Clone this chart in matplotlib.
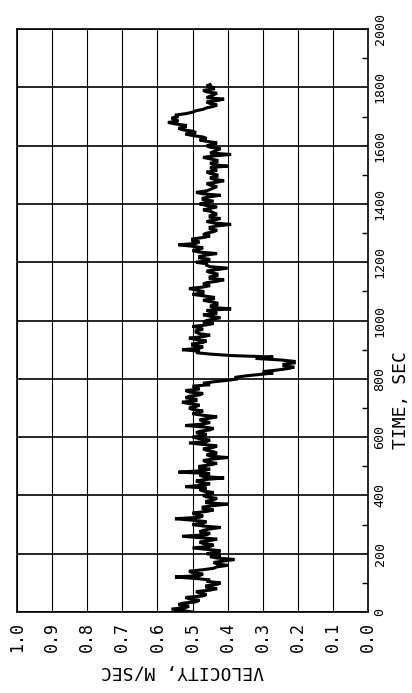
import numpy as np
import matplotlib
matplotlib.use("Agg")
import matplotlib.pyplot as plt

# velocity trace, every 10 s from 0 to 1810 s
velocity = [
    0.50, 0.56, 0.51, 0.53, 0.48, 0.52, 0.46, 0.49, 0.43, 0.46,   # 0-90
    0.42, 0.45, 0.55, 0.47, 0.51, 0.44, 0.40, 0.44, 0.38, 0.45,   # 100-190
    0.46, 0.42, 0.50, 0.44, 0.48, 0.43, 0.53, 0.45, 0.47, 0.42,   # 200-290
    0.50, 0.46, 0.55, 0.47, 0.50, 0.44, 0.47, 0.40, 0.46, 0.43,   # 300-390
    0.47, 0.44, 0.48, 0.52, 0.45, 0.49, 0.41, 0.48, 0.54, 0.45,   # 400-490
    0.48, 0.43, 0.47, 0.40, 0.46, 0.44, 0.47, 0.43, 0.51, 0.45,   # 500-590
    0.50, 0.46, 0.48, 0.44, 0.52, 0.45, 0.48, 0.43, 0.50, 0.47,   # 600-690
    0.51, 0.48, 0.53, 0.49, 0.51, 0.47, 0.52, 0.49, 0.45, 0.44,   # 700-790
    0.37, 0.35, 0.27, 0.26, 0.21, 0.24, 0.21, 0.32, 0.39, 0.49,   # 800-890
    0.53, 0.47, 0.50, 0.46, 0.51, 0.45, 0.49, 0.47, 0.50, 0.44,   # 900-990
    0.46, 0.42, 0.47, 0.44, 0.39, 0.45, 0.43, 0.47, 0.44, 0.50,   # 1000-1090
    0.47, 0.51, 0.45, 0.46, 0.41, 0.45, 0.43, 0.46, 0.40, 0.46,   # 1100-1190
    0.49, 0.45, 0.48, 0.43, 0.50, 0.47, 0.54, 0.48, 0.50, 0.45,   # 1200-1290
    0.46, 0.43, 0.45, 0.39, 0.46, 0.42, 0.45, 0.44, 0.47, 0.43,   # 1300-1390
    0.48, 0.44, 0.47, 0.42, 0.49, 0.45, 0.43, 0.46, 0.41, 0.45,   # 1400-1490
    0.43, 0.46, 0.44, 0.40, 0.45, 0.43, 0.47, 0.39, 0.44, 0.42,   # 1500-1590
    0.46, 0.43, 0.48, 0.47, 0.52, 0.50, 0.54, 0.52, 0.57, 0.55,   # 1600-1690
    0.54, 0.52, 0.49, 0.46, 0.43, 0.46, 0.41, 0.45, 0.43, 0.47,   # 1700-1790
    0.44, 0.45,                                                   # 1800-1810
]
# readings in between, at 5, 15, ... 1805 s
velocity_mid = [
    0.53, 0.52, 0.54, 0.49, 0.51, 0.47, 0.48, 0.45, 0.46, 0.43,
    0.46, 0.49, 0.48, 0.50, 0.47, 0.43, 0.43, 0.41, 0.43, 0.42,
    0.43, 0.46, 0.45, 0.47, 0.45, 0.48, 0.46, 0.48, 0.45, 0.47,
    0.47, 0.50, 0.48, 0.49, 0.46, 0.47, 0.44, 0.46, 0.44, 0.46,
    0.45, 0.47, 0.46, 0.47, 0.48, 0.46, 0.47, 0.45, 0.47, 0.48,
    0.45, 0.46, 0.44, 0.45, 0.43, 0.46, 0.44, 0.47, 0.46, 0.48,
    0.47, 0.49, 0.45, 0.47, 0.47, 0.47, 0.45, 0.47, 0.48, 0.50,
    0.49, 0.51, 0.49, 0.52, 0.48, 0.51, 0.48, 0.50, 0.47, 0.40,
    0.38, 0.31, 0.30, 0.23, 0.24, 0.21, 0.25, 0.27, 0.45, 0.48,
    0.48, 0.50, 0.47, 0.49, 0.47, 0.48, 0.49, 0.48, 0.46, 0.47,
    0.44, 0.45, 0.43, 0.46, 0.44, 0.43, 0.45, 0.44, 0.47, 0.47,
    0.49, 0.47, 0.47, 0.43, 0.45, 0.43, 0.45, 0.43, 0.45, 0.46,
    0.46, 0.48, 0.46, 0.48, 0.48, 0.50, 0.49, 0.50, 0.47, 0.47,
    0.44, 0.45, 0.43, 0.44, 0.44, 0.45, 0.43, 0.45, 0.45, 0.46,
    0.46, 0.47, 0.45, 0.47, 0.46, 0.44, 0.45, 0.43, 0.44, 0.43,
    0.45, 0.43, 0.45, 0.44, 0.43, 0.45, 0.44, 0.45, 0.43, 0.45,
    0.44, 0.46, 0.46, 0.50, 0.49, 0.53, 0.52, 0.55, 0.54, 0.56,
    0.55, 0.50, 0.47, 0.44, 0.45, 0.43, 0.46, 0.44, 0.46, 0.44,
    0.46,
]

vel_ticks = [1.0, 0.9, 0.8, 0.7, 0.6, 0.5, 0.4, 0.3, 0.2, 0.1, 0.0]
vel_labels = ["1.0", "0.9", "0.8", "0.7", "0.6", "0.5", "0.4", "0.3", "0.2", "0.1", "0.0"]
time_ticks = [0, 200, 400, 600, 800, 1000, 1200, 1400, 1600, 1800, 2000]
time_labels = ["0", "200", "400", "600", "800", "1000", "1200", "1400", "1600", "1800", "2000"]
time_minor = [100, 300, 500, 700, 900, 1100, 1300, 1500, 1700, 1900]

# merge both sets of readings into one 5 s record
v = np.empty(len(velocity) + len(velocity_mid))
v[0::2] = velocity
v[1::2] = velocity_mid
t = np.arange(len(v)) * 5

font = ["DejaVu Sans Mono"]

fig = plt.figure(figsize=(4.12, 6.93), dpi=100)
ax = fig.add_axes([0.0413, 0.1169, 0.852, 0.841])

ax.plot(v, t, color="black", lw=2.2, solid_joinstyle="miter")

ax.set_xlim(1.0, 0.0)
ax.set_ylim(0, 2000)

ax.set_xticks(vel_ticks)
ax.set_xticklabels(vel_labels, rotation=90, family=font, fontsize=12)
ax.yaxis.tick_right()
ax.yaxis.set_label_position("right")
ax.set_yticks(time_ticks)
ax.set_yticklabels(time_labels, rotation=90, family=font, fontsize=9.5, va="center")
ax.set_yticks(time_minor, minor=True)

ax.tick_params(axis="x", which="major", length=0, pad=7)
ax.tick_params(axis="y", which="major", length=0, pad=4)
ax.tick_params(axis="y", which="minor", direction="in", length=4, width=1.0,
               right=True, left=False, color="black")

ax.xaxis.grid(True, color="black", lw=0.8)
ax.yaxis.grid(True, color="black", lw=1.2)
for s in ax.spines.values():
    s.set_linewidth(1.2)

ax.set_xlabel("VELOCITY, M/SEC", rotation=180, family=font, fontsize=13)
ax.xaxis.set_label_coords(0.47, -0.086)
ax.set_ylabel("TIME, SEC", rotation=90, family=font, fontsize=13)
ax.yaxis.set_label_coords(1.068, 0.364)

fig.savefig("out.png", dpi=100)
